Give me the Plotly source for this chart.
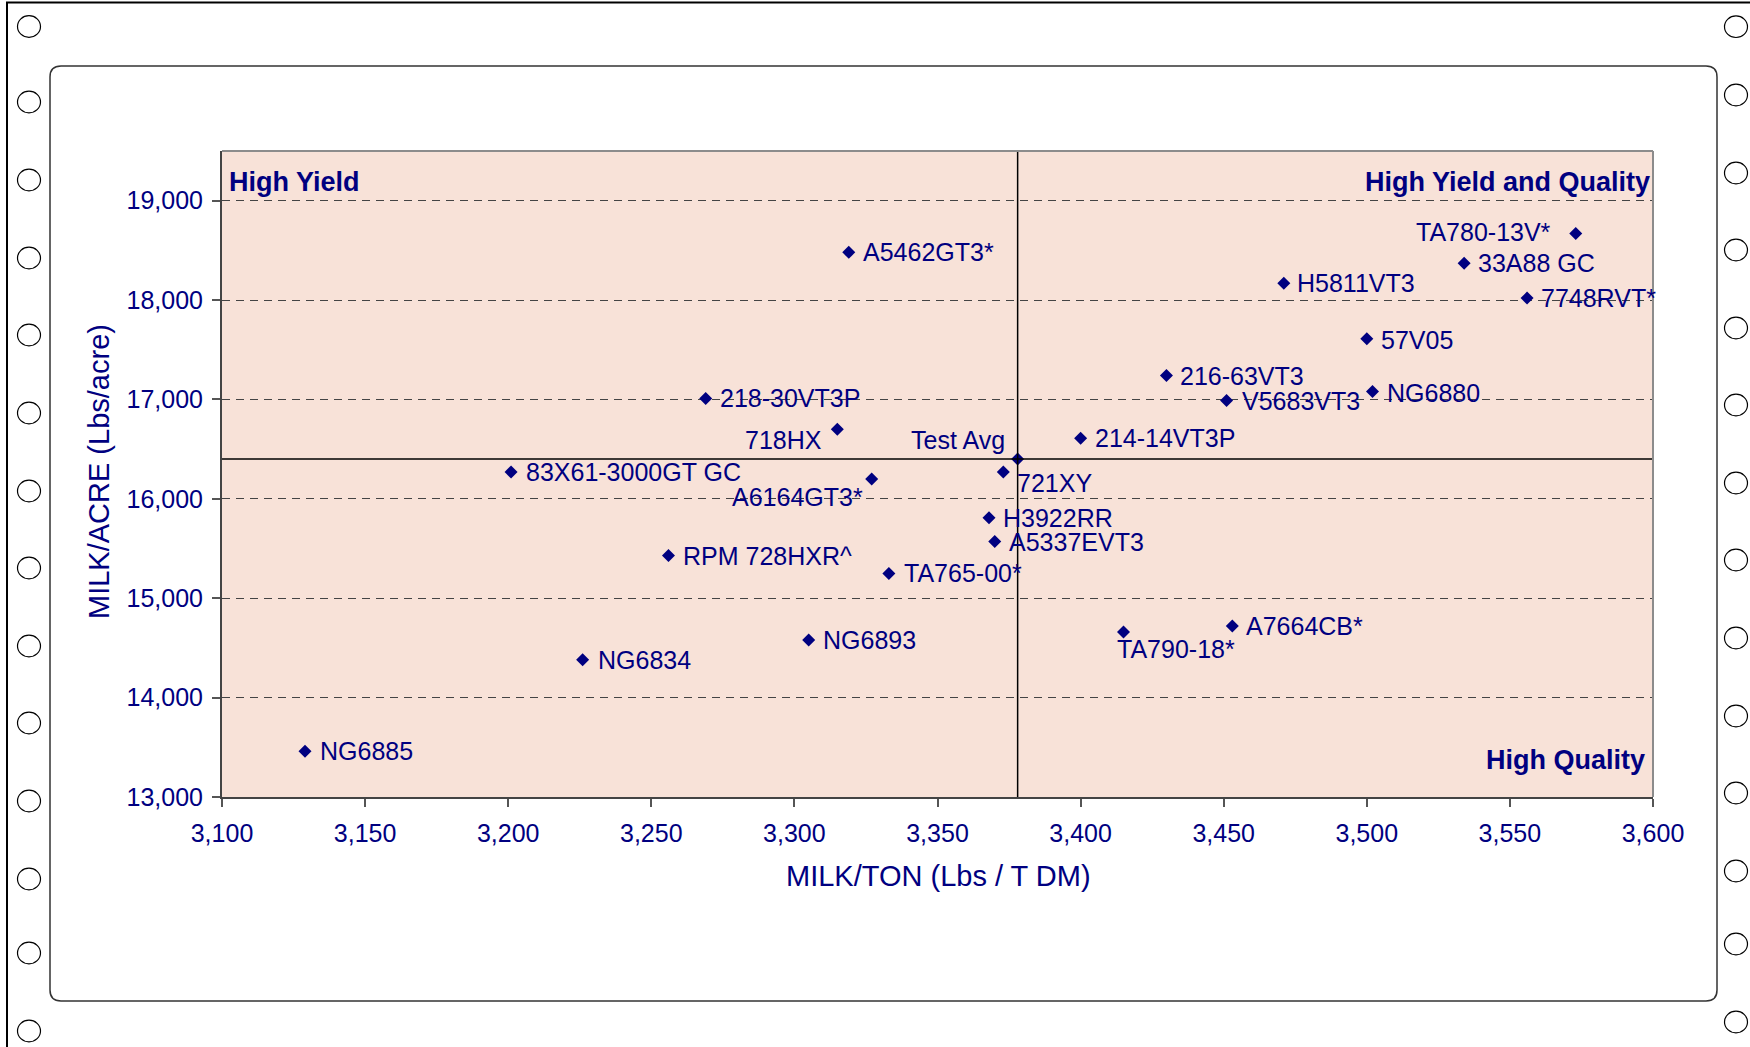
import plotly.graph_objects as go

# ---------------- data ----------------
hybrids = ["A5462GT3*", "TA780-13V*", "33A88 GC", "H5811VT3", "7748RVT*", "57V05",
           "216-63VT3", "NG6880", "V5683VT3", "218-30VT3P", "718HX", "214-14VT3P",
           "83X61-3000GT GC", "A6164GT3*", "721XY", "H3922RR", "A5337EVT3",
           "RPM 728HXR^", "TA765-00*", "TA790-18*", "A7664CB*", "NG6893", "NG6834",
           "NG6885"]
milk_ton = [3319, 3573, 3534, 3471, 3556, 3500,
            3430, 3502, 3451, 3269, 3315, 3400,
            3201, 3327, 3373, 3368, 3370,
            3256, 3333, 3415, 3453, 3305, 3226,
            3129]
milk_acre = [18480, 18670, 18370, 18170, 18020, 17610,
             17240, 17080, 16990, 17010, 16700, 16610,
             16270, 16200, 16270, 15810, 15570,
             15430, 15250, 14660, 14720, 14580, 14380,
             13460]
test_avg_label = "Test Avg"
test_avg_ton = 3378
test_avg_acre = 16400
x_ticks = [3100, 3150, 3200, 3250, 3300, 3350, 3400, 3450, 3500, 3550, 3600]
y_ticks = [13000, 14000, 15000, 16000, 17000, 18000, 19000]

# ---------------- label placement (style) ----------------
label_anchor = ["left", "right", "left", "left", "left", "left",
                "left", "left", "left", "left", "right", "left",
                "left", "right", "left", "left", "left",
                "left", "left", "left", "left", "left", "left",
                "left"]
label_dx = [13, -24, 13, 12, 13, 13,
            13, 13, 14, 13, -14, 13,
            14, -8, 13, 13, 13,
            14, 14, -8, 13, 13, 14,
            14]
label_dy = [0, 1, 0, 0, 0, -1,
            0, -1, -1, 0, -11, 0,
            0, -18, -11, 0, 0,
            0, 0, -17, 0, 0, 0,
            0]

NAVY = "#000080"
FONT = "Liberation Sans, Arial, sans-serif"
W, H = 1750, 1047
L, R, T, B = 222, 1653, 151, 797   # plot area in pixels

def px(xp):
    return (xp - L) / (R - L)

def py(yp):
    return (B - yp) / (B - T)

fig = go.Figure()
fig.add_trace(go.Scatter(
    x=milk_ton + [test_avg_ton], y=milk_acre + [test_avg_acre],
    text=hybrids + [test_avg_label], mode="markers",
    marker=dict(symbol="diamond", size=10, color=NAVY),
    cliponaxis=False, showlegend=False, hoverinfo="text+x+y"))

annotations = []
for name, xv, yv, anc, dx, dy in zip(hybrids, milk_ton, milk_acre, label_anchor, label_dx, label_dy):
    annotations.append(dict(text=name, x=xv, y=yv, xref="x", yref="y",
                            xanchor=anc, yanchor="middle", xshift=dx, yshift=dy,
                            showarrow=False, borderpad=0,
                            font=dict(family=FONT, size=25, color=NAVY)))
annotations.append(dict(text=test_avg_label, x=test_avg_ton, y=test_avg_acre, xref="x", yref="y",
                        xanchor="right", yanchor="middle", xshift=-12, yshift=19,
                        showarrow=False, borderpad=0,
                        font=dict(family=FONT, size=25, color=NAVY)))

shapes = []
# test average cross lines
shapes.append(dict(type="line", xref="x", yref="paper", x0=test_avg_ton, x1=test_avg_ton,
                   y0=0, y1=1, line=dict(color="#000000", width=1.5), layer="above"))
shapes.append(dict(type="line", xref="paper", yref="y", x0=0, x1=1,
                   y0=test_avg_acre, y1=test_avg_acre, line=dict(color="#000000", width=1.5), layer="above"))
# plot border top/right
shapes.append(dict(type="line", xref="paper", yref="paper", x0=0, x1=1, y0=1, y1=1,
                   line=dict(color="#8c8c8c", width=2)))
shapes.append(dict(type="line", xref="paper", yref="paper", x0=1, x1=1, y0=0, y1=1,
                   line=dict(color="#8c8c8c", width=2)))
# outer page frame (open at right/bottom)
shapes.append(dict(type="rect", xref="paper", yref="paper",
                   x0=px(7), x1=px(1800), y0=py(1100), y1=py(2.5),
                   line=dict(color="#000000", width=2)))
# inner rounded frame
x0, x1, y0, y1, r = 50, 1717, 66, 1001, 11
path = (f"M {px(x0 + r)},{py(y0)} L {px(x1 - r)},{py(y0)} "
        f"Q {px(x1)},{py(y0)} {px(x1)},{py(y0 + r)} "
        f"L {px(x1)},{py(y1 - r)} Q {px(x1)},{py(y1)} {px(x1 - r)},{py(y1)} "
        f"L {px(x0 + r)},{py(y1)} Q {px(x0)},{py(y1)} {px(x0)},{py(y1 - r)} "
        f"L {px(x0)},{py(y0 + r)} Q {px(x0)},{py(y0)} {px(x0 + r)},{py(y0)} Z")
shapes.append(dict(type="path", xref="paper", yref="paper", path=path,
                   line=dict(color="#333333", width=1.5)))
# binder holes
left_holes = [26.5, 102, 180, 258, 335, 413, 491, 568, 646, 723, 801, 879, 953, 1031]
right_holes = [26.7, 95, 173, 250, 328, 405, 483, 560, 638, 716, 793, 871, 944, 1022]
for cx, ys in ((29, left_holes), (1736, right_holes)):
    for cy in ys:
        shapes.append(dict(type="circle", xref="paper", yref="paper",
                           x0=px(cx - 11.5), x1=px(cx + 11.5),
                           y0=py(cy + 10.8), y1=py(cy - 10.8),
                           line=dict(color="#000000", width=1.2), fillcolor="white"))

annotations += [
    dict(text="MILK/TON (Lbs / T DM)", xref="paper", yref="paper", x=px(938), y=py(876),
         xanchor="center", yanchor="middle", showarrow=False,
         font=dict(family=FONT, size=29, color=NAVY)),
    dict(text="MILK/ACRE (Lbs/acre)", xref="paper", yref="paper", x=px(99), y=py(472),
         xanchor="center", yanchor="middle", showarrow=False, textangle=-90,
         font=dict(family=FONT, size=29, color=NAVY)),
    dict(text="<b>High Yield</b>", xref="paper", yref="paper", x=px(227), y=py(182),
         xanchor="left", yanchor="middle", showarrow=False,
         font=dict(family=FONT, size=27, color=NAVY)),
    dict(text="<b>High Yield and Quality</b>", xref="paper", yref="paper", x=px(1652), y=py(182),
         xanchor="right", yanchor="middle", showarrow=False,
         font=dict(family=FONT, size=27, color=NAVY)),
    dict(text="<b>High Quality</b>", xref="paper", yref="paper", x=px(1647), y=py(760),
         xanchor="right", yanchor="middle", showarrow=False,
         font=dict(family=FONT, size=27, color=NAVY)),
]

fig.update_layout(
    width=W, height=H, autosize=False,
    margin=dict(l=L, r=W - R, t=T, b=H - B, pad=0),
    paper_bgcolor="white", plot_bgcolor="#F8E2D8",
    font=dict(family=FONT, color=NAVY),
    shapes=shapes, annotations=annotations, showlegend=False,
    xaxis=dict(range=[3100, 3600], tickvals=x_ticks, tickformat=",d",
               ticks="outside", ticklen=8, tickwidth=1.5, tickcolor="#555555",
               showline=True, linecolor="#444444", linewidth=2,
               showgrid=False, zeroline=False, ticklabelstandoff=5,
               tickfont=dict(family=FONT, size=25, color=NAVY)),
    yaxis=dict(range=[13000, 19500], tickvals=y_ticks, tickformat=",d",
               ticks="outside", ticklen=8, tickwidth=1.5, tickcolor="#555555",
               showline=True, linecolor="#444444", linewidth=2,
               showgrid=True, gridcolor="#444444", gridwidth=1, griddash="8px,6px",
               zeroline=False, ticklabelstandoff=4,
               tickfont=dict(family=FONT, size=25, color=NAVY)),
)

fig.write_html("out.html", config={"displayModeBar": False},
               post_script="document.body.style.margin='0';")
